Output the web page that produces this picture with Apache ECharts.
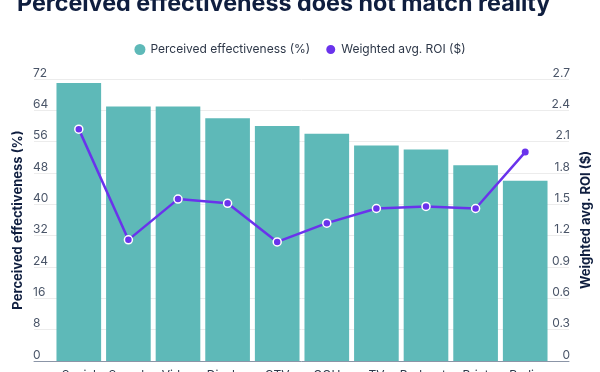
<!DOCTYPE html>
<html>
<head>
<meta charset="utf-8">
<script src="https://cdn.jsdelivr.net/npm/echarts@6/dist/echarts.min.js"></script>
<style>html,body{margin:0;padding:0;background:#fff}#c{width:600px;height:372px}</style>
</head>
<body>
<div id="c"></div>
<script>
const categories = ['Social','Search','Video','Display','CTV','OOH','TV','Podcasts','Print','Radio'];
const perceived = [71, 65, 65, 62, 60, 58, 55, 54, 50, 46];
const roi = [2.22, 1.16, 1.55, 1.51, 1.14, 1.32, 1.46, 1.48, 1.46, 2.0];
const leftTicks = [0, 8, 16, 24, 32, 40, 48, 56, 64, 72];
const rightTicks = [0, 0.3, 0.6, 0.9, 1.2, 1.5, 1.8, 2.1, 2.4, 2.7];

const TEAL = '#5eb9b8', PURPLE = '#6a33ec', NAVY = '#0f1e3f';
const FONT = 'Inter, "Noto Sans", sans-serif';
const chart = echarts.init(document.getElementById('c'), null, {renderer: 'canvas'});

const roiData = roi.map((v, i) => i === roi.length - 1
  ? {value: v, itemStyle: {borderWidth: 0}, symbolSize: 7}
  : v);

chart.setOption({
  animation: false,
  textStyle: {fontFamily: FONT},
  title: {
    text: 'Perceived effectiveness does not match reality',
    left: 12, top: -13,
    textStyle: {fontFamily: FONT, fontSize: 23.3, fontWeight: 'bold', color: NAVY}
  },
  legend: {
    top: 38, left: 'center',
    icon: 'circle', itemWidth: 11, itemHeight: 11, itemGap: 14,
    textStyle: {fontFamily: FONT, fontSize: 12, color: '#2d3748'},
    data: ['Perceived effectiveness (%)', 'Weighted avg. ROI ($)']
  },
  grid: [
    {left: 54, right: 50, top: 79, bottom: 11, containLabel: false, outerBoundsMode: 'none'},
    {left: 34, right: 31, top: 79, bottom: 11, containLabel: false, outerBoundsMode: 'none'}
  ],
  xAxis: [
    {type: 'category', gridIndex: 0, data: categories,
     axisLine: {show: false}, axisTick: {show: false},
     axisLabel: {interval: 0, margin: 8, fontSize: 12, color: '#2d3748', fontFamily: FONT}},
    {type: 'value', gridIndex: 1, min: 0, max: 1,
     axisLine: {show: true, lineStyle: {color: '#8b95a7', width: 1}},
     axisTick: {show: false}, axisLabel: {show: false}, splitLine: {show: false}}
  ],
  yAxis: [
    {type: 'value', gridIndex: 0, min: 0, max: 72, interval: 8,
     axisLabel: {show: false}, splitLine: {show: false}, axisLine: {show: false}},
    {type: 'value', gridIndex: 0, min: 0, max: 2.7, interval: 0.3,
     axisLabel: {show: false}, splitLine: {show: false}, axisLine: {show: false}},
    {type: 'value', gridIndex: 1, position: 'left', min: 0, max: 72, interval: 8,
     name: 'Perceived effectiveness (%)', nameLocation: 'middle', nameRotate: 90, nameGap: 9,
     nameMoveOverlap: false,
     nameTextStyle: {fontFamily: FONT, fontSize: 13, fontWeight: 'bold', color: NAVY},
     axisLine: {show: false}, axisTick: {show: false},
     axisLabel: {inside: true, margin: -1, verticalAlign: 'bottom', fontSize: 12, color: '#4a5568', fontFamily: FONT,
       formatter: v => leftTicks.includes(v) ? String(v) : ''},
     splitLine: {show: true, lineStyle: {color: '#ececec', width: 1}}},
    {type: 'value', gridIndex: 1, position: 'right', min: 0, max: 2.7, interval: 0.3,
     name: 'Weighted avg. ROI ($)', nameLocation: 'middle', nameRotate: 90, nameGap: 11,
     nameMoveOverlap: false,
     nameTextStyle: {fontFamily: FONT, fontSize: 13, fontWeight: 'bold', color: NAVY},
     axisLine: {show: false}, axisTick: {show: false},
     axisLabel: {inside: true, margin: -1, align: 'right', verticalAlign: 'bottom', fontSize: 12, color: '#4a5568', fontFamily: FONT,
       formatter: v => { const r = rightTicks.find(t => Math.abs(t - v) < 1e-6); return r === undefined ? '' : String(r); }},
     splitLine: {show: false}}
  ],
  series: [
    {name: 'Perceived effectiveness (%)', type: 'bar', xAxisIndex: 0, yAxisIndex: 0,
     data: perceived, barCategoryGap: '10%', itemStyle: {color: TEAL}},
    {name: 'Weighted avg. ROI ($)', type: 'line', xAxisIndex: 0, yAxisIndex: 1,
     data: roiData, symbol: 'circle', symbolSize: 8,
     lineStyle: {color: PURPLE, width: 2.5},
     itemStyle: {color: PURPLE, borderColor: '#fff', borderWidth: 1.5}}
  ]
});
</script>
</body>
</html>
